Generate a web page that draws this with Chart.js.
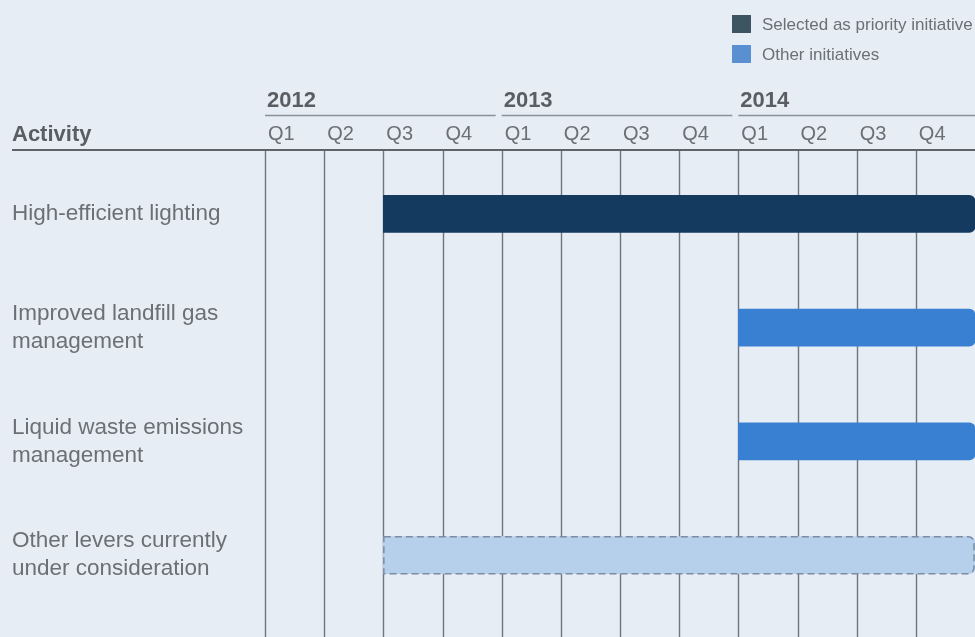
<!DOCTYPE html>
<html>
<head>
<meta charset="utf-8">
<title>Initiative roadmap 2012–2014</title>
<script src="https://cdn.jsdelivr.net/npm/chart.js@4/dist/chart.umd.min.js"></script>
<style>
  html, body { margin: 0; padding: 0; background: #e6edf5; }
  #wrap { position: relative; width: 975px; height: 637px; }
</style>
</head>
<body>
<div id="wrap"><canvas id="gantt"></canvas></div>
<script>
// Timeline: quarter index 0 = Q1 2012 ... 12 = end of Q4 2014
const years = ['2012', '2013', '2014'];
const quarters = ['Q1', 'Q2', 'Q3', 'Q4'];
const activities = [
  'High-efficient lighting',
  ['Improved landfill gas', 'management'],
  ['Liquid waste emissions', 'management'],
  ['Other levers currently', 'under consideration']
];
const priorityRanges   = [[2, 12], null, null, null];
const otherRanges      = [null, [8, 12], [8, 12], null];
const consideredRanges = [null, null, null, [2, 12]];

const legendLabels = ['Selected as priority initiative', 'Other initiatives'];
const legendColors = ['#3d5561', '#5a8fd2'];

const FONT = "'Liberation Sans', Arial, Helvetica, sans-serif";
const TEXT = '#6b7075';
const HEAD = '#5a5e63';
const GRID = '#6e7680';

const decor = {
  id: 'ganttDecor',
  beforeDatasetsDraw(chart) {
    const { ctx } = chart;
    const x = chart.scales.x;
    ctx.save();
    ctx.strokeStyle = GRID;
    ctx.lineWidth = 1.4;
    for (let i = 0; i < 12; i++) {
      const px = Math.round(x.getPixelForValue(i)) + 0.5;
      ctx.beginPath();
      ctx.moveTo(px, 151);
      ctx.lineTo(px, chart.height);
      ctx.stroke();
    }
    ctx.restore();
  },
  afterDatasetsDraw(chart) {
    // dashed outline for the "under consideration" bars
    const { ctx } = chart;
    const meta = chart.getDatasetMeta(2);
    ctx.save();
    ctx.strokeStyle = '#7b8ca3';
    ctx.lineWidth = 1.5;
    ctx.setLineDash([7, 4]);
    meta.data.forEach((el, i) => {
      if (!consideredRanges[i]) return;
      const p = el.getProps(['x', 'y', 'base', 'height'], true);
      const left = Math.min(p.x, p.base), right = Math.max(p.x, p.base);
      ctx.beginPath();
      ctx.roundRect(left + 0.5, p.y - p.height / 2, right - left - 1.5, p.height, [0, 6, 6, 0]);
      ctx.stroke();
    });
    ctx.restore();
  },
  afterDraw(chart) {
    const { ctx } = chart;
    const x = chart.scales.x;
    ctx.save();
    // header rule under the column titles
    ctx.strokeStyle = '#5f6368';
    ctx.lineWidth = 2;
    ctx.beginPath();
    ctx.moveTo(12, 150);
    ctx.lineTo(chart.width, 150);
    ctx.stroke();
    // thin rule under each year
    ctx.strokeStyle = '#8b9199';
    ctx.lineWidth = 1.5;
    years.forEach((y, i) => {
      const a = x.getPixelForValue(i * 4);
      const b = i === years.length - 1 ? chart.width : x.getPixelForValue(i * 4 + 4) - 6;
      ctx.beginPath();
      ctx.moveTo(a, 115.5);
      ctx.lineTo(b, 115.5);
      ctx.stroke();
    });
    // column title
    ctx.fillStyle = HEAD;
    ctx.font = 'bold 22px ' + FONT;
    ctx.textBaseline = 'alphabetic';
    ctx.textAlign = 'left';
    ctx.fillText('Activity', 12, 141);
    // legend
    ctx.font = '17px ' + FONT;
    ctx.textBaseline = 'middle';
    legendLabels.forEach((lab, i) => {
      const top = 15 + i * 30;
      ctx.fillStyle = legendColors[i];
      ctx.fillRect(732, top, 19, 18);
      ctx.fillStyle = TEXT;
      ctx.fillText(lab, 762, top + 10);
    });
    ctx.restore();
  }
};

new Chart(document.getElementById('gantt'), {
  type: 'bar',
  data: {
    labels: activities,
    datasets: [
      { label: legendLabels[0], data: priorityRanges, backgroundColor: '#143a5f', borderRadius: 6, borderSkipped: 'start' },
      { label: legendLabels[1], data: otherRanges, backgroundColor: '#3a80d2', borderRadius: 6, borderSkipped: 'start' },
      { label: 'Under consideration', data: consideredRanges, backgroundColor: '#b6d0ec', borderRadius: 6, borderSkipped: 'start' }
    ]
  },
  options: {
    indexAxis: 'y',
    responsive: true,
    maintainAspectRatio: false,
    animation: false,
    grouped: false,
    barThickness: 37,
    layout: { padding: { left: 12, right: 0, top: 0, bottom: 25 } },
    plugins: { legend: { display: false }, tooltip: { enabled: false } },
    scales: {
      y: {
        type: 'category',
        position: 'left',
        offset: true,
        grid: { display: false, drawTicks: false },
        border: { display: false },
        ticks: { crossAlign: 'far', color: TEXT, font: { family: FONT, size: 22.5, lineHeight: 1.25 }, padding: 0 },
        afterFit(s) { s.width = 253; }
      },
      x: {
        type: 'linear',
        position: 'top',
        weight: 0,
        min: 0,
        max: 12,
        grid: { display: false, drawTicks: false },
        border: { display: false },
        ticks: {
          stepSize: 1,
          autoSkip: false,
          maxRotation: 0,
          align: 'start',
          labelOffset: 3,
          padding: 11,
          color: TEXT,
          font: { family: FONT, size: 20 },
          callback: v => (v < 12 ? quarters[v % 4] : null)
        },
        afterFit(s) { s.height = 37; }
      },
      years: {
        type: 'linear',
        axis: 'x',
        position: 'top',
        weight: 1,
        min: 0,
        max: 12,
        grid: { display: false, drawTicks: false },
        border: { display: false },
        ticks: {
          stepSize: 4,
          autoSkip: false,
          maxRotation: 0,
          align: 'start',
          labelOffset: 2,
          padding: 6,
          color: HEAD,
          font: { family: FONT, size: 22, weight: 'bold' },
          callback: v => (years[v / 4] !== undefined ? years[v / 4] : null)
        },
        afterFit(s) { s.height = 120; }
      }
    }
  },
  plugins: [decor]
});
</script>
</body>
</html>
